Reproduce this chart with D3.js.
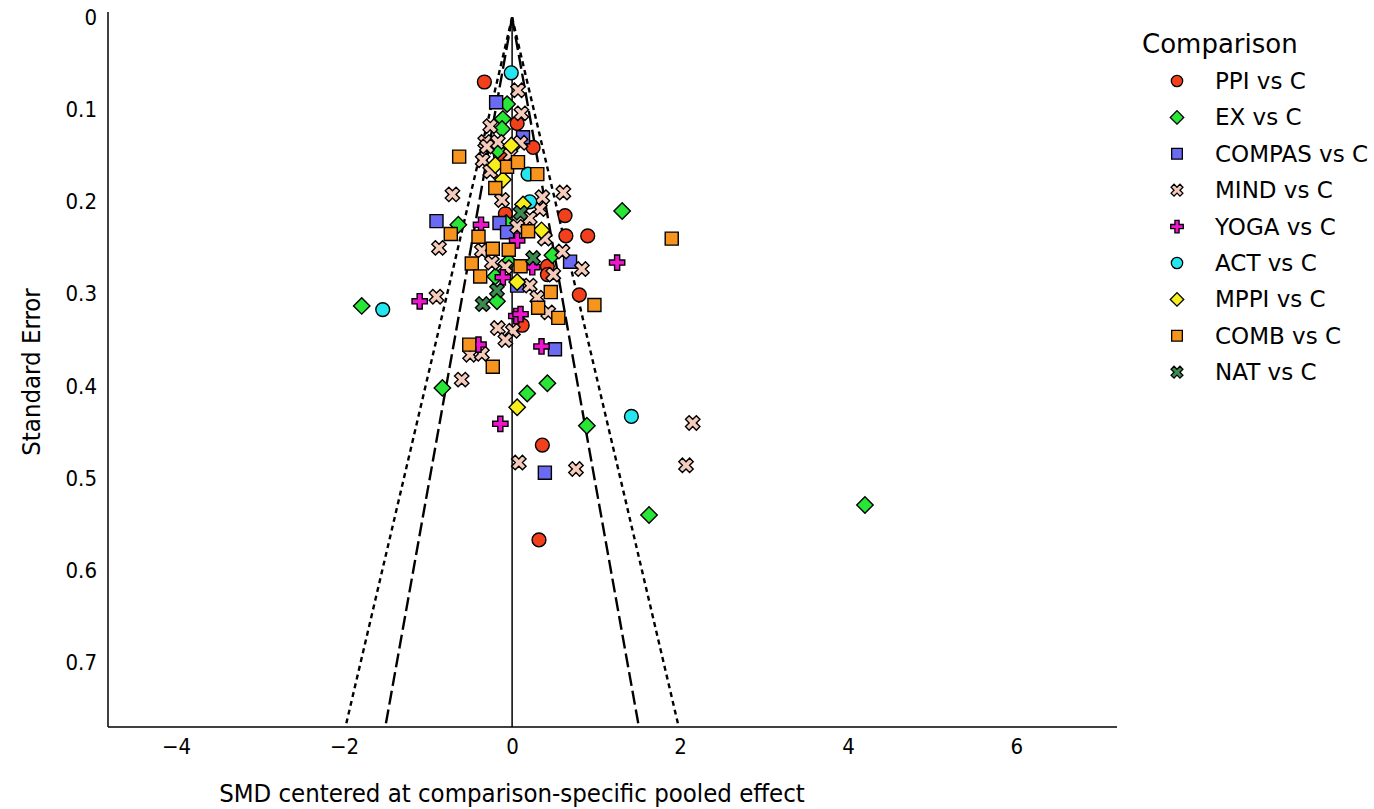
<!DOCTYPE html>
<html><head><meta charset="utf-8">
<script src="https://cdn.jsdelivr.net/npm/d3@7"></script>
<style>
body{margin:0;background:#fff;}
svg{display:block;}
.tick text{font-family:"DejaVu Sans Condensed","DejaVu Sans",sans-serif;font-stretch:condensed;}
</style></head>
<body><svg id="c" width="1374" height="809"></svg>
<script>
// ---- data (x = SMD centered, se = standard error) ----
const seriesNames = ["PPI vs C","EX vs C","COMPAS vs C","MIND vs C","YOGA vs C","ACT vs C","MPPI vs C","COMB vs C","NAT vs C"];
const ppiX  = [-0.33,0.06,0.25,-0.14,-0.08,0.63,0.64,0.90,0.42,0.42,0.80,0.12,0.36,0.32];
const ppiSE = [0.070,0.115,0.141,0.149,0.213,0.215,0.237,0.237,0.270,0.279,0.301,0.334,0.464,0.567];
const exX  = [-0.06,-0.11,-0.12,-0.17,1.31,-0.64,-0.07,-0.04,0.48,-0.20,-0.18,-1.79,-0.83,0.18,0.42,0.89,1.63,4.20];
const exSE = [0.094,0.110,0.121,0.144,0.210,0.225,0.223,0.265,0.258,0.281,0.308,0.313,0.402,0.408,0.397,0.443,0.540,0.529];
const compasX  = [-0.19,0.13,-0.90,-0.15,-0.06,0.69,0.06,0.51,0.39];
const compasSE = [0.092,0.130,0.221,0.223,0.233,0.265,0.291,0.360,0.494];
const mindX  = [0.07,0.11,-0.32,-0.17,0.10,-0.26,-0.30,-0.35,-0.02,-0.26,-0.71,0.61,-0.12,0.36,0.33,0.21,0.06,0.39,-0.87,-0.36,-0.24,-0.08,0.60,0.83,0.49,0.21,0.30,0.43,-0.90,-0.17,0.01,-0.08,-0.50,-0.36,-0.60,0.08,0.76,2.15,2.07];
const mindSE = [0.079,0.104,0.135,0.135,0.136,0.118,0.140,0.155,0.149,0.167,0.192,0.190,0.198,0.195,0.208,0.218,0.227,0.240,0.250,0.253,0.266,0.271,0.254,0.273,0.279,0.291,0.304,0.320,0.303,0.337,0.340,0.350,0.366,0.365,0.393,0.483,0.490,0.440,0.486];
const yogaX  = [-0.37,0.06,0.24,-0.11,1.25,-1.10,0.05,0.10,0.35,-0.40,-0.14];
const yogaSE = [0.225,0.242,0.271,0.282,0.266,0.308,0.324,0.322,0.357,0.355,0.441];
const actX  = [-0.01,0.19,0.21,-1.54,1.42];
const actSE = [0.060,0.170,0.200,0.317,0.433];
const mppiX  = [-0.01,-0.20,-0.11,0.13,0.35,0.06,0.06];
const mppiSE = [0.139,0.160,0.176,0.203,0.231,0.287,0.423];
const combX  = [-0.63,-0.06,0.07,0.30,-0.20,-0.73,-0.40,-0.23,-0.04,0.19,-0.48,0.10,-0.38,0.46,0.31,0.55,0.98,1.90,-0.51,-0.23];
const combSE = [0.151,0.162,0.157,0.170,0.185,0.235,0.238,0.251,0.252,0.232,0.267,0.270,0.281,0.298,0.315,0.326,0.312,0.240,0.355,0.379];
const natX  = [0.10,0.25,-0.18,-0.35];
const natSE = [0.212,0.261,0.296,0.311];
const yTicks = [0,0.1,0.2,0.3,0.4,0.5,0.6,0.7];
const xTicks = [-4,-2,0,2,4,6];
const xTitle = "SMD centered at comparison-specific pooled effect";
const yTitle = "Standard Error";
const legendTitle = "Comparison";

const seriesX = [ppiX,exX,compasX,mindX,yogaX,actX,mppiX,combX,natX];
const seriesSE = [ppiSE,exSE,compasSE,mindSE,yogaSE,actSE,mppiSE,combSE,natSE];
const colors = ["#f2401c","#27e635","#6a6af2","#f5cbbb","#ee15cf","#25e6ee","#f6ef1c","#f7941d","#3d8a4e"];
const shapes = ["circle","diamond","square","x","plus","circle","diamond","square","x"];

const svg = d3.select("#c");
const x = d3.scaleLinear().domain([-4.81,7.2]).range([108,1117]);
const y = d3.scaleLinear().domain([0,0.77]).range([17.5,727]);
const seMax = 0.77;
const condensed = "'DejaVu Sans Condensed','DejaVu Sans',sans-serif";

function symPath(shape, k){
  k = k||1;
  if(shape==="circle") return d3.symbol(d3.symbolCircle, 150*k*k)();
  if(shape==="diamond") return d3.symbol(d3.symbolSquare, 135*k*k)();
  if(shape==="square") return d3.symbol(d3.symbolSquare, 170*k*k)();
  return d3.symbol(d3.symbolCross, 130*k*k)();
}
function rot(shape){ return (shape==="diamond"||shape==="x") ? 45 : 0; }

// axes
const gx = svg.append("g").attr("transform","translate(0,727)")
  .call(d3.axisBottom(x).tickValues(xTicks).tickSize(0).tickPadding(11).tickFormat(d3.format("")));
gx.select(".domain").attr("stroke","#000").attr("stroke-width",1.5).attr("d","M108,0H1117");
gx.selectAll("text").attr("font-size",22).attr("fill","#000");
const gy = svg.append("g").attr("transform","translate(108,0)")
  .call(d3.axisLeft(y).tickValues(yTicks).tickSize(0).tickPadding(11).tickFormat(d=>d===0?"0":d3.format(".1f")(d)));
gy.select(".domain").attr("stroke","#000").attr("stroke-width",1.5).attr("d","M0,12V727");
gy.selectAll("text").attr("font-size",22).attr("fill","#000");

// funnel lines
const z95 = 1.96, z99 = 2.576;
[[z95,"14,5"],[z99,"5,4"]].forEach(([z,dash])=>{
  [-1,1].forEach(s=>{
    svg.append("line").attr("x1",x(0)).attr("y1",y(0)).attr("x2",x(s*z*seMax)).attr("y2",y(seMax))
      .attr("stroke","#000").attr("stroke-width",2.4).attr("stroke-dasharray",dash);
  });
});
svg.append("line").attr("x1",x(0)).attr("x2",x(0)).attr("y1",y(0)).attr("y2",y(seMax))
  .attr("stroke","#000").attr("stroke-width",1.5);

// points
seriesX.forEach((xs,i)=>{
  const pts = xs.map((v,j)=>({x:v,se:seriesSE[i][j]}));
  svg.append("g").selectAll("path").data(pts).join("path")
    .attr("d",symPath(shapes[i]))
    .attr("transform",d=>`translate(${x(d.x)},${y(d.se)}) rotate(${rot(shapes[i])})`)
    .attr("fill",colors[i]).attr("stroke","#000").attr("stroke-width",1.4);
});

// titles
svg.append("text").attr("x",512).attr("y",802).attr("text-anchor","middle")
  .attr("font-family",condensed).style("font-stretch","condensed")
  .attr("font-size",25.5).text(xTitle);
svg.append("text").attr("transform","translate(40,372) rotate(-90)").attr("text-anchor","middle")
  .attr("font-family",condensed).style("font-stretch","condensed")
  .attr("font-size",25.5).text(yTitle);

// legend
const lg = svg.append("g");
lg.append("text").attr("x",1142).attr("y",53).attr("font-family","'DejaVu Sans',sans-serif")
  .attr("font-size",26).text(legendTitle);
seriesNames.forEach((n,i)=>{
  const yy = 81 + i*36.4;
  lg.append("path").attr("d",symPath(shapes[i],0.82))
    .attr("transform",`translate(1177,${yy}) rotate(${rot(shapes[i])})`)
    .attr("fill",colors[i]).attr("stroke","#000").attr("stroke-width",1.3);
  lg.append("text").attr("x",1215).attr("y",yy+8).attr("font-family","'DejaVu Sans',sans-serif")
    .attr("font-size",23).text(n);
});
</script></body></html>
